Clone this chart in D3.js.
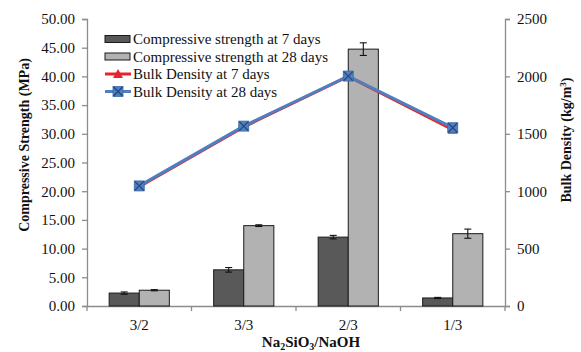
<!DOCTYPE html>
<html><head><meta charset="utf-8">
<script src="https://cdn.jsdelivr.net/npm/d3@7"></script>
<style>body{margin:0;background:#fff}svg{display:block}text{font-family:"Liberation Serif","Times New Roman",serif;fill:#111}</style>
</head><body><svg id="c" width="581" height="352"></svg>
<script>
const categories = ["3/2","3/3","2/3","1/3"];
const strength7 = [2.25, 6.3, 12.0, 1.4];
const strength7Err = [0.2, 0.4, 0.3, 0.1];
const strength28 = [2.75, 14.0, 44.75, 12.6];
const strength28Err = [0.1, 0.15, 1.1, 0.8];
const density7 = [1040, 1560, 2000, 1535];
const density28 = [1046, 1567, 2003, 1553];
const leftTicks = [0,5,10,15,20,25,30,35,40,45,50];
const rightTicks = [0,500,1000,1500,2000,2500];
const seriesNames = ["Compressive strength at 7 days","Compressive strength at 28 days","Bulk Density at 7 days","Bulk Density at 28 days"];

const svg = d3.select("#c");
const L = 87, R = 505, T = 19, B = 306;
const x = d3.scaleBand().domain(categories).range([L, R]);
const yL = d3.scaleLinear().domain([0,50]).range([B, T]);
const yR = d3.scaleLinear().domain([0,2500]).range([B, T]);
const barW = x.bandwidth() * 0.288;
const axisCol = "#8c8c8c";
const dark = "#595959", light = "#b2b2b2";
const red = "#e4262c", blue = "#4f7fbf";

// Axes
const gl = svg.append("g").attr("transform",`translate(${L},0)`)
  .call(d3.axisLeft(yL).tickValues(leftTicks).tickFormat(d3.format(".2f")).tickSize(5).tickPadding(7));
const gr = svg.append("g").attr("transform",`translate(${R},0)`)
  .call(d3.axisRight(yR).tickValues(rightTicks).tickFormat(d3.format("d")).tickSize(5).tickPadding(7));
const gb = svg.append("g").attr("transform",`translate(0,${B})`)
  .call(d3.axisBottom(x).tickSize(0).tickPadding(13));
[gl,gr,gb].forEach(g=>{
  g.select(".domain").attr("stroke",axisCol).attr("stroke-width",1.3);
  g.selectAll(".tick line").attr("stroke",axisCol).attr("stroke-width",1.3);
  g.selectAll("text").style("font-family","'Liberation Serif',serif").style("font-size","15px").attr("fill","#111");
});
// Category boundary ticks
const bounds = categories.map(c=>x(c)).concat([R]);
svg.append("g").selectAll("line").data(bounds).join("line")
  .attr("x1",d=>d).attr("x2",d=>d).attr("y1",B).attr("y2",B+5)
  .attr("stroke",axisCol).attr("stroke-width",1.3);

// Bars
function drawBars(vals, errs, off, col){
  const g = svg.append("g");
  g.selectAll("rect").data(vals).join("rect")
    .attr("x",(d,i)=>x(categories[i]) + x.bandwidth()/2 + off)
    .attr("width",barW)
    .attr("y",d=>yL(d)).attr("height",d=>B - yL(d))
    .attr("fill",col).attr("stroke","#1a1a1a").attr("stroke-width",1);
  const eg = svg.append("g").attr("stroke","#111").attr("stroke-width",1.1);
  vals.forEach((v,i)=>{
    const cx = x(categories[i]) + x.bandwidth()/2 + off + barW/2;
    const y1 = yL(v+errs[i]), y2 = yL(v-errs[i]);
    eg.append("line").attr("x1",cx).attr("x2",cx).attr("y1",y1).attr("y2",y2);
    eg.append("line").attr("x1",cx-3.5).attr("x2",cx+3.5).attr("y1",y1).attr("y2",y1);
    eg.append("line").attr("x1",cx-3.5).attr("x2",cx+3.5).attr("y1",y2).attr("y2",y2);
  });
}
drawBars(strength7, strength7Err, -barW, dark);
drawBars(strength28, strength28Err, 0, light);

// Lines
const cx = c => x(c) + x.bandwidth()/2;
const line = d3.line().x((d,i)=>cx(categories[i])).y(d=>yR(d));
svg.append("path").datum(density7).attr("d",line).attr("fill","none").attr("stroke",red).attr("stroke-width",3);
function tri(g, px, py){
  g.append("path").attr("d",`M${px},${py-5}L${px+5},${py+4}L${px-5},${py+4}Z`).attr("fill",red);
}
function sq(g, px, py){
  g.append("rect").attr("x",px-5).attr("y",py-5).attr("width",10).attr("height",10).attr("fill",blue).attr("stroke","#3a6aa8").attr("stroke-width",0.8);
  g.append("path").attr("d",`M${px-4.5},${py-4.5}L${px+4.5},${py+4.5}M${px+4.5},${py-4.5}L${px-4.5},${py+4.5}`).attr("stroke","#24457a").attr("stroke-width",1.2);
}
const mg7 = svg.append("g");
density7.forEach((d,i)=>tri(mg7, cx(categories[i]), yR(d)));
svg.append("path").datum(density28).attr("d",line).attr("fill","none").attr("stroke",blue).attr("stroke-width",3);
const mg28 = svg.append("g");
density28.forEach((d,i)=>sq(mg28, cx(categories[i]), yR(d)));

// Legend
const lg = svg.append("g");
const lx = 105, rows = [39, 56.5, 74, 91.5];
lg.append("rect").attr("x",lx).attr("y",rows[0]-3.5).attr("width",25).attr("height",7).attr("fill",dark).attr("stroke","#1a1a1a");
lg.append("rect").attr("x",lx).attr("y",rows[1]-3.5).attr("width",25).attr("height",7).attr("fill",light).attr("stroke","#1a1a1a");
lg.append("line").attr("x1",lx).attr("x2",lx+26).attr("y1",rows[2]).attr("y2",rows[2]).attr("stroke",red).attr("stroke-width",3);
tri(lg, lx+13, rows[2]);
lg.append("line").attr("x1",lx).attr("x2",lx+26).attr("y1",rows[3]).attr("y2",rows[3]).attr("stroke",blue).attr("stroke-width",3);
sq(lg, lx+13, rows[3]);
seriesNames.forEach((n,i)=>{
  lg.append("text").attr("x",lx+28).attr("y",rows[i]).attr("dy","0.35em").style("font-size","15px").text(n);
});

// Axis titles
svg.append("text").attr("transform",`translate(29,145) rotate(-90)`).attr("text-anchor","middle")
  .style("font-size","14px").style("font-weight","bold").text("Compressive Strength (MPa)");
const rt = svg.append("text").attr("transform",`translate(571,140) rotate(-90)`).attr("text-anchor","middle")
  .style("font-size","14px").style("font-weight","bold");
rt.append("tspan").text("Bulk Density (kg/m");
rt.append("tspan").attr("dy","-5").style("font-size","9px").text("3");
rt.append("tspan").attr("dy","5").text(")");
const xt = svg.append("text").attr("x",311).attr("y",347).attr("text-anchor","middle")
  .style("font-size","15px").style("font-weight","bold");
xt.append("tspan").text("Na");
xt.append("tspan").attr("dy","3").style("font-size","10px").text("2");
xt.append("tspan").attr("dy","-3").text("SiO");
xt.append("tspan").attr("dy","3").style("font-size","10px").text("3");
xt.append("tspan").attr("dy","-3").text("/NaOH");
</script></body></html>
